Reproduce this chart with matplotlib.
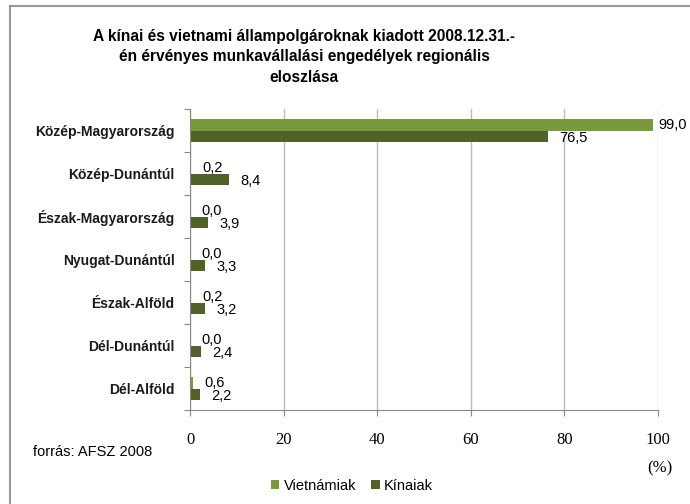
import numpy as np
import matplotlib.pyplot as plt
from matplotlib.lines import Line2D

regions = ["Közép-Magyarország", "Közép-Dunántúl", "Észak-Magyarország",
           "Nyugat-Dunántúl", "Észak-Alföld", "Dél-Dunántúl", "Dél-Alföld"]
vietnamiak = [99.0, 0.2, 0.0, 0.0, 0.2, 0.0, 0.6]
kinaiak = [76.5, 8.4, 3.9, 3.3, 3.2, 2.4, 2.2]
x_ticks = [0, 20, 40, 60, 80, 100]

light = "#7A983C"
dark = "#506228"

fig = plt.figure(figsize=(6.9, 5.04), dpi=100)
ax = fig.add_axes([0.2754, 0.1865, 0.678, 0.597])

y = np.arange(len(regions))
h = 0.27
ax.barh(y - h / 2, vietnamiak, height=h, color=light, label="Vietnámiak")
ax.barh(y + h / 2, kinaiak, height=h, color=dark, label="Kínaiak")

def fmt(v):
    return f"{v:.1f}".replace(".", ",")

for yi, v in zip(y, vietnamiak):
    # label at the plot edge is pulled in a bit, like in the original
    off = 3.5 if v > 95 else 8
    ax.annotate(fmt(v), (v, yi - h / 2), xytext=(off, 0), textcoords="offset points",
                ha="left", va="center", fontsize=10.5, family="Liberation Sans")
for yi, v in zip(y, kinaiak):
    ax.annotate(fmt(v), (v, yi + h / 2 + 0.03), xytext=(8, 0), textcoords="offset points",
                ha="left", va="center", fontsize=10.5, family="Liberation Sans")

ax.set_xlim(0, 100)
ax.set_ylim(len(regions) - 0.5, -0.5)
ax.set_xticks(x_ticks)
ax.set_xticklabels([str(t) for t in x_ticks], family="Liberation Serif", fontsize=12)
ax.set_yticks(np.arange(len(regions) + 1) - 0.5, minor=False)
ax.set_yticklabels([])
ax.set_yticks(y, minor=True)
ax.set_yticklabels(regions, minor=True, family="Liberation Sans", fontsize=10,
                   fontweight="bold", color="#1a1a1a")
ax.tick_params(axis="y", which="minor", length=0, pad=11)
ax.tick_params(axis="y", which="major", length=4.5, color="#888888")
ax.tick_params(axis="x", length=4.5, color="#888888", pad=11)

ax.grid(axis="x", color="#BBBBBB", linewidth=1)
ax.set_axisbelow(True)
for s in ["top", "right"]:
    ax.spines[s].set_visible(False)
for s in ["left", "bottom"]:
    ax.spines[s].set_color("#888888")

fig.text(0.441, 1 - 57 / 504, "A kínai és vietnami állampolgároknak kiadott 2008.12.31.-\n"
         "én érvényes munkavállalási engedélyek regionális\neloszlása",
         ha="center", va="center", fontsize=11.2, fontweight="bold",
         family="Liberation Sans", linespacing=1.5)

fig.text(0.048, 1 - 452 / 504, "forrás: AFSZ 2008", ha="left", va="center",
         fontsize=10.5, family="Liberation Sans")
fig.text(0.957, 1 - 468 / 504, "(%)", ha="center", va="center",
         fontsize=12, family="Liberation Serif")

fig.legend(loc="center", bbox_to_anchor=(0.51, 1 - 486 / 504), ncol=2, frameon=False,
           handlelength=0.6, handleheight=0.6, handletextpad=0.3, columnspacing=1.0,
           prop={"family": "Liberation Sans", "size": 10.5})

fig.add_artist(Line2D([10 / 690, 1], [1 - 6 / 504, 1 - 6 / 504], color="#999999", lw=1.5))
fig.add_artist(Line2D([10 / 690, 10 / 690], [0, 1 - 6 / 504], color="#999999", lw=1.5))

fig.savefig("out.png", dpi=100)
